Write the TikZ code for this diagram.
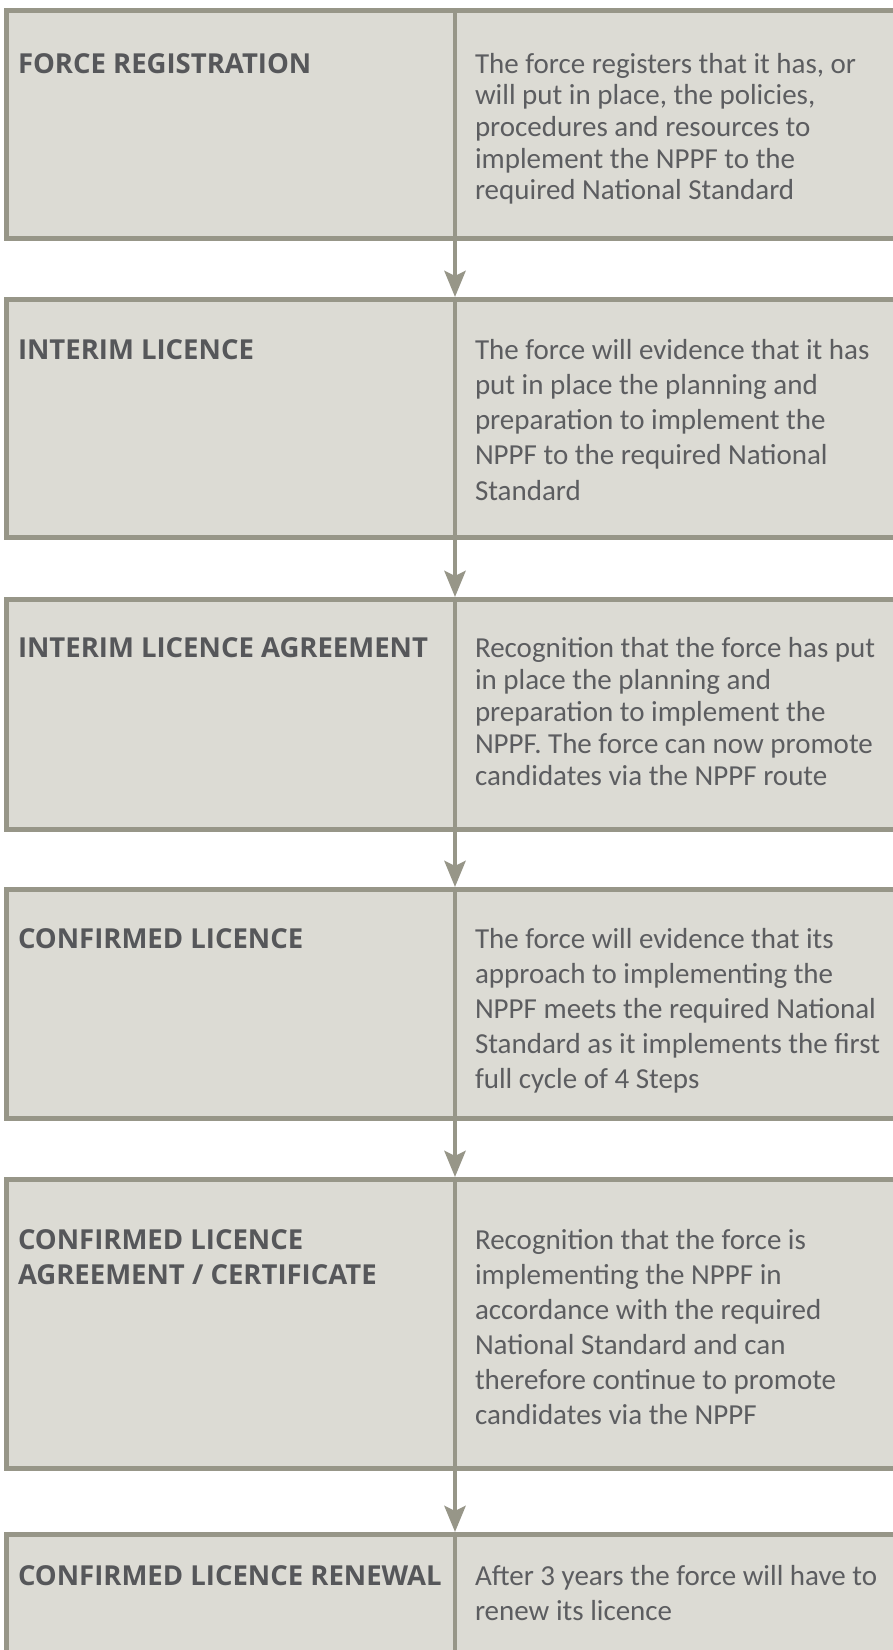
\documentclass[tikz,border=0pt]{standalone}
\usepackage{fontspec}
\setmainfont{Carlito}
\newfontfamily\titlefont{Open Sans}
\usetikzlibrary{arrows.meta}
\definecolor{boxfill}{HTML}{DCDBD4}
\definecolor{boxline}{HTML}{979688}
\definecolor{titlecol}{HTML}{56575A}
\definecolor{bodycol}{HTML}{5C5D60}
\newcommand\txtblock[3]{{\fontsize{#1}{#2}\selectfont\begin{tabular}[t]{@{}l@{}}#3\end{tabular}}}
\tikzset{
  stagebox/.style={draw=boxline, fill=boxfill, line width=5.3pt, rectangle, inner sep=0pt, outer sep=0pt, minimum width=900pt, anchor=north west},
  divline/.style={draw=boxline, line width=4.7pt},
  flowarrow/.style={draw=boxline, fill=boxline, line width=4.7pt, -{Stealth[length=26pt,width=21pt,inset=5pt]}},
  titletext/.style={anchor=base west, inner sep=0pt, outer sep=0pt, text=titlecol, font=\titlefont\bfseries},
  bodytext/.style={anchor=base west, inner sep=0pt, outer sep=0pt, text=bodycol},
}
\begin{document}
\begin{tikzpicture}[x=1pt,y=-1pt]
\useasboundingbox[fill=white] (0,0) rectangle (893,1650);
\clip (0,0) rectangle (893,1650);
\coordinate (dx) at (455,0);
% boxes
\node[stagebox, minimum height=227.7pt] (b1) at (6.65,10.65) {};
\node[stagebox, minimum height=237.7pt] (b2) at (6.65,299.65) {};
\node[stagebox, minimum height=229.7pt] (b3) at (6.65,599.65) {};
\node[stagebox, minimum height=228.7pt] (b4) at (6.65,889.65) {};
\node[stagebox, minimum height=288.7pt] (b5) at (6.65,1179.65) {};
\node[stagebox, minimum height=200pt] (b6) at (6.65,1534.65) {};
% dividers
\foreach \b in {b1,b2,b3,b4,b5,b6}{
  \draw[divline] (\b.north -| dx) -- (\b.south -| dx);
}
% arrows
\draw[flowarrow] (b1.south -| dx) -- ([yshift=2.65pt]b2.north -| dx);
\draw[flowarrow] (b2.south -| dx) -- ([yshift=2.65pt]b3.north -| dx);
\draw[flowarrow] (b3.south -| dx) -- ([yshift=2.65pt]b4.north -| dx);
\draw[flowarrow] (b4.south -| dx) -- ([yshift=2.65pt]b5.north -| dx);
\draw[flowarrow] (b5.south -| dx) -- ([yshift=2.65pt]b6.north -| dx);
% titles
\node[titletext] (t1) at (18,73) {\txtblock{27.5}{35}{FORCE REGISTRATION}};
\node[titletext] (t2) at (18,359) {\txtblock{27.5}{35}{INTERIM LICENCE}};
\node[titletext] (t3) at (18,657) {\txtblock{27.5}{35}{INTERIM LICENCE AGREEMENT}};
\node[titletext] (t4) at (18,948) {\txtblock{27.5}{35}{CONFIRMED LICENCE}};
\node[titletext] (t5) at (18,1249) {\txtblock{27.5}{35}{CONFIRMED LICENCE\\AGREEMENT / CERTIFICATE}};
\node[titletext] (t6) at (18,1585) {\txtblock{27.5}{35}{CONFIRMED LICENCE RENEWAL}};
% descriptions
\node[bodytext] (d1) at (475,73) {\txtblock{29}{31.7}{The force registers that it has, or\\will put in place, the policies,\\procedures and resources to\\implement the NPPF to the\\required National Standard}};
\node[bodytext] (d2) at (475,359) {\txtblock{29}{35.3}{The force will evidence that it has\\put in place the planning and\\preparation to implement the\\NPPF to the required National\\Standard}};
\node[bodytext] (d3) at (475,657) {\txtblock{29}{32}{Recognition that the force has put\\in place the planning and\\preparation to implement the\\NPPF. The force can now promote\\candidates via the NPPF route}};
\node[bodytext] (d4) at (475,948) {\txtblock{29}{35}{The force will evidence that its\\approach to implementing the\\NPPF meets the required National\\Standard as it implements the first\\full cycle of 4 Steps}};
\node[bodytext] (d5) at (475,1249) {\txtblock{29}{35}{Recognition that the force is\\implementing the NPPF in\\accordance with the required\\National Standard and can\\therefore continue to promote\\candidates via the NPPF}};
\node[bodytext] (d6) at (475,1585) {\txtblock{29}{35}{After 3 years the force will have to\\renew its licence}};
\end{tikzpicture}
\end{document}
